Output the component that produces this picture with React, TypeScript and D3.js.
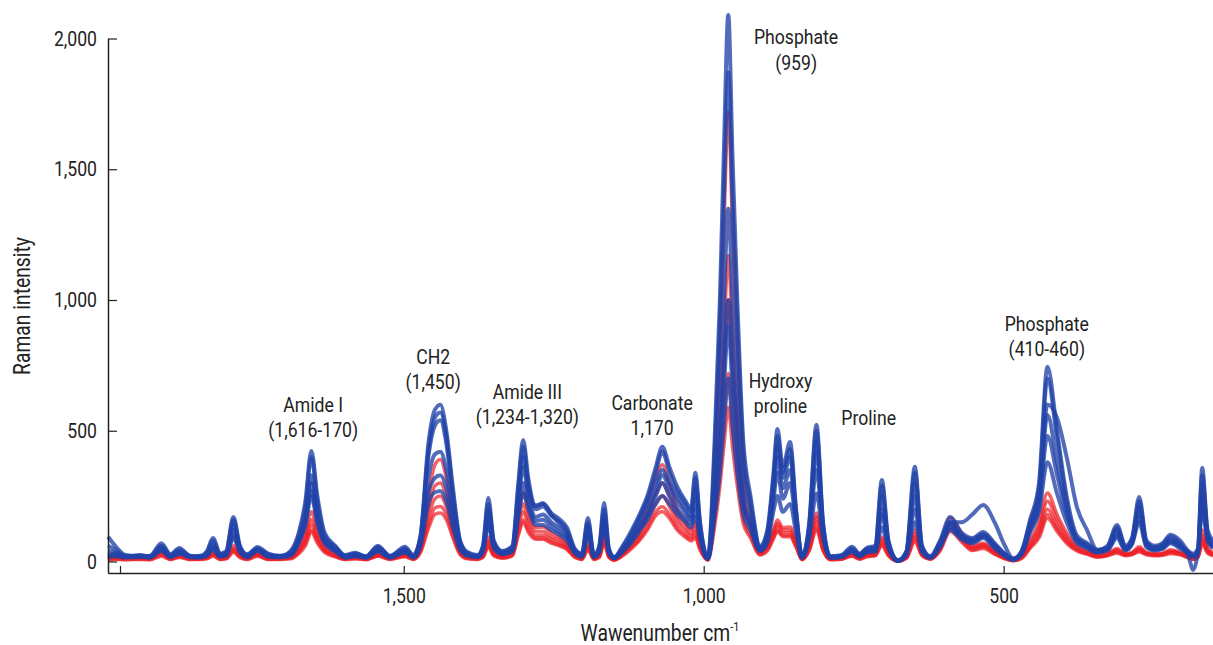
import { useEffect, useRef } from "react";
import * as d3 from "d3";

// wavenumber grid (cm-1), high -> low
const wavenumbers = [
  1993, 1981, 1964, 1939, 1923, 1904, 1889, 1874, 1856, 1839,
  1828, 1818, 1806, 1796, 1784, 1773, 1761, 1744, 1726, 1706,
  1689, 1675, 1664, 1654, 1644, 1632, 1614, 1598, 1581, 1563,
  1543, 1523, 1498, 1484, 1472, 1459, 1448, 1439, 1429, 1418,
  1406, 1394, 1377, 1368, 1359, 1350, 1336, 1319, 1309, 1301,
  1292, 1280, 1268, 1254, 1239, 1228, 1215, 1203, 1193, 1183,
  1174, 1166, 1158, 1149, 1135, 1120, 1109, 1094, 1080, 1069,
  1057, 1044, 1030, 1021, 1014, 1006, 993, 982, 973, 966,
  959, 952, 944, 934, 922, 906, 894, 884, 877, 868,
  856, 846, 836, 824, 812, 801, 789, 770, 753, 740,
  728, 714, 703, 692, 676, 662, 648, 636, 622, 606,
  589, 570, 552, 534, 515, 498, 484, 470, 456, 441,
  427, 411, 395, 378, 361, 344, 327, 311, 297, 286,
  274, 262, 248, 235, 222, 206, 192, 184, 176, 169,
  160, 151,
];

// blue spectra
const blue1 = [
  95, 60, 25, 20, 22, 70, 28, 52, 20, 22,
  40, 90, 30, 40, 170, 60, 25, 55, 30, 20,
  40, 110, 230, 423, 250, 110, 60, 25, 33, 18,
  60, 20, 56, 25, 100, 450, 580, 599, 500, 280,
  80, 36, 25, 60, 243, 80, 40, 60, 300, 465,
  312, 210, 224, 185, 159, 130, 50, 30, 166, 25,
  60, 224, 50, 17, 60, 120, 170, 250, 360, 439,
  360, 285, 230, 200, 339, 150, 15, 450, 1000, 1600,
  2090, 1550, 1000, 460, 250, 60, 120, 330, 507, 362,
  457, 200, 20, 150, 523, 150, 20, 25, 56, 30,
  52, 60, 312, 80, 5, 40, 362, 60, 20, 80,
  170, 110, 90, 113, 70, 30, 10, 40, 159, 300,
  745, 500, 250, 100, 70, 44, 60, 140, 60, 90,
  247, 80, 60, 70, 102, 80, 40, 30, 50, 358,
  120, 80,
];
const blue2 = [
  60, 45, 20, 25, 18, 60, 25, 45, 22, 18,
  35, 80, 28, 35, 160, 55, 28, 50, 28, 22,
  35, 100, 210, 400, 230, 100, 55, 22, 30, 20,
  55, 22, 50, 22, 95, 420, 550, 570, 480, 260,
  75, 32, 22, 55, 220, 75, 38, 55, 280, 440,
  290, 200, 210, 175, 150, 120, 45, 28, 150, 22,
  55, 200, 45, 15, 55, 110, 160, 240, 340, 420,
  340, 270, 220, 190, 320, 140, 12, 400, 900, 1420,
  1870, 1380, 900, 420, 230, 55, 110, 310, 480, 340,
  430, 190, 18, 140, 500, 140, 18, 22, 50, 28,
  48, 55, 290, 75, 3, 38, 340, 55, 18, 75,
  150, 100, 85, 105, 65, 28, 8, 38, 150, 280,
  700, 470, 230, 90, 65, 40, 55, 130, 55, 85,
  230, 75, 55, 65, 95, 70, 20, -32, 40, 330,
  110, 70,
];
const blue3 = [
  40, 35, 22, 18, 20, 55, 22, 40, 18, 20,
  30, 65, 25, 30, 140, 50, 22, 48, 25, 18,
  30, 85, 170, 330, 190, 90, 50, 20, 28, 18,
  50, 20, 45, 20, 90, 400, 520, 540, 450, 240,
  70, 30, 20, 50, 200, 70, 35, 50, 250, 400,
  280, 215, 220, 180, 140, 110, 40, 25, 140, 20,
  50, 180, 40, 15, 50, 100, 150, 220, 300, 350,
  300, 250, 200, 170, 280, 120, 14, 300, 650, 1020,
  1350, 1000, 650, 320, 190, 50, 100, 290, 440, 320,
  400, 180, 18, 130, 460, 130, 18, 20, 45, 25,
  45, 50, 250, 70, 5, 35, 300, 50, 18, 70,
  150, 150, 180, 216, 150, 60, 12, 35, 140, 260,
  600, 549, 400, 209, 120, 45, 50, 120, 50, 80,
  210, 70, 50, 60, 85, 65, 35, 25, 40, 300,
  100, 65,
];
const blue4 = [
  25, 30, 20, 22, 18, 50, 20, 35, 20, 18,
  28, 55, 22, 28, 120, 45, 20, 45, 22, 20,
  28, 80, 160, 300, 170, 80, 45, 18, 25, 16,
  45, 18, 40, 18, 80, 320, 410, 420, 350, 190,
  60, 28, 20, 45, 180, 65, 32, 45, 220, 360,
  250, 170, 180, 150, 125, 100, 38, 22, 125, 20,
  45, 165, 38, 14, 45, 90, 130, 190, 270, 330,
  280, 230, 185, 160, 250, 110, 12, 230, 480, 760,
  1000, 740, 480, 240, 150, 45, 90, 260, 400, 280,
  350, 160, 16, 120, 420, 120, 16, 20, 42, 22,
  40, 45, 200, 60, 2, 30, 250, 45, 16, 65,
  140, 95, 80, 100, 60, 25, 10, 32, 130, 230,
  560, 380, 200, 85, 60, 38, 48, 110, 48, 75,
  190, 65, 48, 55, 80, 60, 35, 22, 38, 260,
  90, 60,
];
const blue5 = [
  20, 25, 18, 20, 16, 45, 18, 32, 18, 16,
  25, 50, 20, 25, 100, 40, 18, 42, 20, 18,
  25, 75, 150, 270, 155, 75, 40, 16, 22, 15,
  40, 16, 36, 16, 70, 260, 320, 330, 280, 150,
  50, 25, 18, 40, 150, 55, 30, 40, 190, 300,
  220, 155, 160, 135, 110, 90, 35, 20, 110, 18,
  40, 150, 35, 13, 40, 80, 120, 175, 250, 300,
  250, 200, 165, 145, 200, 95, 10, 210, 430, 680,
  900, 670, 430, 220, 140, 42, 80, 230, 340, 240,
  300, 140, 15, 105, 350, 105, 15, 18, 40, 20,
  38, 40, 180, 55, 3, 28, 200, 40, 15, 60,
  130, 90, 75, 95, 55, 22, 8, 30, 120, 210,
  480, 330, 180, 80, 55, 36, 45, 100, 45, 70,
  170, 60, 45, 50, 75, 55, 32, 20, 36, 230,
  85, 55,
];
const blue6 = [
  15, 20, 15, 18, 15, 40, 16, 30, 16, 15,
  22, 45, 18, 22, 90, 35, 16, 40, 18, 16,
  22, 70, 140, 250, 145, 70, 38, 15, 20, 14,
  38, 15, 34, 15, 60, 220, 265, 270, 230, 130,
  45, 22, 16, 38, 140, 50, 28, 38, 170, 260,
  200, 140, 140, 120, 100, 80, 32, 18, 100, 16,
  38, 130, 32, 12, 38, 75, 110, 160, 220, 250,
  220, 180, 150, 130, 170, 85, 10, 170, 340, 530,
  700, 520, 340, 180, 120, 40, 70, 190, 250, 190,
  220, 110, 14, 90, 260, 90, 14, 16, 36, 18,
  35, 38, 130, 50, 2, 26, 150, 38, 14, 55,
  120, 85, 70, 90, 50, 20, 6, 28, 110, 190,
  380, 260, 150, 70, 50, 34, 42, 90, 42, 65,
  150, 55, 42, 48, 70, 50, 30, 18, 34, 200,
  80, 50,
];

// red spectra
const red1 = [
  15, 18, 12, 14, 12, 40, 14, 25, 12, 14,
  18, 35, 14, 18, 60, 25, 12, 30, 14, 12,
  18, 50, 110, 190, 120, 60, 30, 12, 18, 10,
  30, 12, 28, 12, 60, 250, 370, 390, 320, 170,
  45, 18, 12, 25, 94, 35, 20, 30, 180, 266,
  190, 130, 132, 110, 90, 70, 25, 12, 70, 12,
  25, 109, 25, 8, 35, 80, 120, 220, 320, 370,
  300, 200, 150, 120, 150, 70, 8, 380, 820, 1300,
  1720, 1280, 820, 380, 200, 40, 60, 120, 159, 130,
  132, 80, 10, 60, 185, 60, 10, 12, 30, 14,
  28, 30, 94, 35, 2, 18, 120, 30, 12, 60,
  165, 110, 60, 70, 40, 15, 5, 20, 80, 150,
  262, 180, 110, 60, 40, 25, 30, 50, 30, 35,
  56, 35, 30, 32, 45, 35, 20, 12, 25, 120,
  50, 35,
];
const red2 = [
  10, 14, 10, 12, 10, 35, 12, 22, 10, 12,
  15, 30, 12, 16, 50, 22, 10, 28, 12, 10,
  16, 45, 95, 160, 100, 50, 25, 10, 16, 9,
  26, 10, 25, 10, 50, 200, 290, 300, 250, 140,
  38, 15, 10, 22, 80, 30, 18, 28, 150, 220,
  160, 115, 115, 95, 80, 60, 22, 10, 60, 10,
  22, 95, 22, 7, 30, 70, 100, 180, 260, 300,
  250, 170, 130, 105, 130, 60, 7, 260, 560, 880,
  1170, 870, 560, 270, 150, 35, 55, 110, 145, 120,
  120, 70, 9, 55, 170, 55, 9, 10, 26, 12,
  25, 28, 85, 30, 2, 16, 105, 28, 10, 55,
  150, 100, 55, 65, 36, 14, 4, 18, 70, 130,
  230, 160, 95, 52, 35, 22, 28, 45, 28, 32,
  50, 32, 28, 30, 40, 32, 18, 10, 22, 100,
  45, 30,
];
const red3 = [
  20, 12, 14, 10, 12, 30, 10, 20, 12, 10,
  14, 28, 10, 14, 45, 20, 12, 26, 10, 12,
  14, 40, 80, 140, 90, 45, 22, 12, 14, 10,
  24, 12, 22, 12, 45, 170, 240, 250, 210, 120,
  34, 14, 12, 20, 70, 28, 16, 26, 130, 190,
  140, 100, 100, 85, 70, 55, 20, 12, 55, 12,
  20, 85, 20, 8, 28, 60, 90, 150, 220, 250,
  210, 150, 115, 95, 115, 55, 8, 220, 480, 760,
  1000, 740, 480, 230, 130, 32, 50, 100, 135, 110,
  110, 65, 10, 50, 150, 50, 10, 12, 24, 12,
  22, 26, 75, 28, 3, 15, 95, 26, 12, 50,
  140, 90, 50, 60, 34, 13, 5, 16, 60, 115,
  200, 140, 85, 48, 32, 20, 26, 40, 26, 30,
  45, 30, 26, 28, 36, 30, 16, 10, 20, 85,
  40, 28,
];
const red4 = [
  8, 10, 8, 10, 8, 25, 9, 18, 9, 10,
  12, 25, 9, 12, 40, 18, 9, 24, 9, 10,
  12, 35, 70, 120, 80, 40, 20, 9, 12, 8,
  22, 10, 20, 10, 40, 140, 205, 210, 180, 100,
  30, 12, 10, 18, 60, 25, 14, 24, 110, 160,
  120, 90, 90, 75, 62, 50, 18, 10, 48, 10,
  18, 75, 18, 6, 25, 55, 80, 130, 190, 209,
  180, 130, 100, 85, 100, 48, 6, 160, 350, 550,
  720, 530, 350, 170, 100, 28, 45, 90, 120, 100,
  100, 58, 8, 45, 130, 45, 8, 10, 22, 10,
  20, 24, 65, 25, 2, 14, 85, 24, 10, 45,
  125, 80, 45, 55, 30, 12, 4, 14, 55, 100,
  180, 125, 75, 44, 30, 18, 24, 36, 24, 28,
  40, 28, 24, 26, 34, 28, 15, 9, 18, 75,
  36, 25,
];
const red5 = [
  6, 8, 7, 8, 7, 20, 8, 15, 8, 8,
  10, 20, 8, 10, 35, 15, 8, 20, 8, 8,
  10, 30, 60, 113, 70, 35, 18, 8, 10, 7,
  20, 8, 18, 8, 35, 125, 180, 185, 160, 90,
  26, 10, 8, 16, 55, 22, 12, 22, 100, 150,
  110, 85, 85, 70, 58, 46, 16, 8, 44, 8,
  16, 70, 16, 5, 22, 50, 75, 120, 175, 190,
  165, 120, 92, 78, 90, 44, 5, 130, 290, 450,
  590, 440, 290, 145, 90, 25, 40, 85, 115, 95,
  95, 55, 7, 42, 120, 42, 7, 9, 20, 9,
  18, 22, 60, 22, 1, 12, 75, 22, 9, 40,
  115, 75, 42, 50, 28, 10, 3, 12, 50, 90,
  165, 115, 70, 40, 28, 16, 22, 32, 22, 26,
  36, 26, 22, 24, 30, 26, 14, 8, 16, 65,
  32, 22,
];

const blueSeries = [blue6, blue5, blue4, blue3, blue2, blue1];
const redSeries = [red1, red2, red3, red4, red5];

const yTicks = [0, 500, 1000, 1500, 2000];
const xTicks = [1973, 1500, 1000, 500];
const xTickLabels = ["", "1,500", "1,000", "500"];

// band labels, anchored in data units (wavenumber, intensity)
const bandLabels = [
  { lines: ["Amide I", "(1,616-170)"], w: 1651, v: 599 },
  { lines: ["CH2", "(1,450)"], w: 1451, v: 783 },
  { lines: ["Amide III", "(1,234-1,320)"], w: 1294, v: 649 },
  { lines: ["Carbonate", "1,170"], w: 1086, v: 607 },
  { lines: ["Phosphate", "(959)"], w: 846, v: 2004 },
  { lines: ["Hydroxy", "proline"], w: 872, v: 691 },
  { lines: ["Proline"], w: 725, v: 549 },
  { lines: ["Phosphate", "(410-460)"], w: 428, v: 909 },
];

const FONT = "Roboto, 'Liberation Sans', sans-serif";
const SX = 0.84; // condensed look

export default function App() {
  const ref = useRef<SVGSVGElement>(null);
  const width = 1213;
  const height = 645;

  useEffect(() => {
    if (!ref.current) return;
    document.body.style.margin = "0";
    const svg = d3.select(ref.current);
    svg.selectAll("*").remove();

    const left = 108;
    const bottom = 573;

    const x = d3.scaleLinear().domain([1993, 151]).range([left, width]);
    const y = d3.scaleLinear().domain([-44, 2000]).range([bottom, 38.5]);

    const line = d3
      .line<number>()
      .x((_, i) => x(wavenumbers[i]))
      .y((d) => y(d))
      .curve(d3.curveMonotoneX);

    const lines = svg.append("g");
    redSeries.forEach((s) => {
      lines
        .append("path")
        .attr("d", line(s))
        .attr("fill", "none")
        .attr("stroke", "#ec1f26")
        .attr("stroke-width", 3.5)
        .attr("stroke-opacity", 0.7)
        .attr("stroke-linejoin", "round");
    });
    blueSeries.forEach((s) => {
      lines
        .append("path")
        .attr("d", line(s))
        .attr("fill", "none")
        .attr("stroke", "#2143a8")
        .attr("stroke-width", 4)
        .attr("stroke-opacity", 0.78)
        .attr("stroke-linejoin", "round");
    });

    // axes
    const yAxis = svg
      .append("g")
      .attr("transform", `translate(${left},0)`)
      .call(
        d3
          .axisLeft(y)
          .tickValues(yTicks)
          .tickSizeInner(-9)
          .tickSizeOuter(0)
          .tickPadding(11)
          .tickFormat((d) => d3.format(",")(d as number))
      );
    const xAxis = svg
      .append("g")
      .attr("transform", `translate(0,${bottom})`)
      .call(
        d3
          .axisBottom(x)
          .tickValues(xTicks)
          .tickSizeInner(-7)
          .tickSizeOuter(0)
          .tickPadding(15)
          .tickFormat((_, i) => xTickLabels[i])
      );
    [xAxis, yAxis].forEach((a) => {
      a.select(".domain").attr("stroke", "#222").attr("stroke-width", 1.5);
      a.selectAll(".tick line").attr("stroke", "#222").attr("stroke-width", 1.2);
      a.selectAll(".tick text")
        .attr("fill", "#222")
        .style("font-family", FONT)
        .style("font-size", "21px");
    });
    yAxis.selectAll(".tick text").attr("x", -11 / SX).attr("transform", `scale(${SX},1)`);
    xAxis.selectAll(".tick text").attr("transform", `scale(${SX},1)`);

    // axis titles
    svg
      .append("text")
      .attr("transform", `translate(22,306) rotate(-90) scale(${SX},1)`)
      .attr("text-anchor", "middle")
      .attr("dominant-baseline", "central")
      .attr("fill", "#222")
      .style("font-family", FONT)
      .style("font-size", "23px")
      .text("Raman intensity");

    const xt = svg
      .append("text")
      .attr("transform", `translate(660,641) scale(${SX},1)`)
      .attr("text-anchor", "middle")
      .attr("fill", "#222")
      .style("font-family", FONT)
      .style("font-size", "23px");
    xt.append("tspan").text("Wawenumber cm");
    xt.append("tspan").attr("dy", -10).style("font-size", "13px").text("-1");

    // band labels
    bandLabels.forEach((b) => {
      const t = svg
        .append("text")
        .attr("transform", `translate(${x(b.w)},${y(b.v)}) scale(${SX},1)`)
        .attr("text-anchor", "middle")
        .attr("fill", "#222")
        .style("font-family", FONT)
        .style("font-size", "21px");
      b.lines.forEach((l, i) => {
        t.append("tspan")
          .attr("x", 0)
          .attr("y", i * 25.5)
          .attr("dominant-baseline", "central")
          .text(l);
      });
    });
  }, []);

  return (
    <svg
      ref={ref}
      width={width}
      height={height}
      style={{ position: "absolute", left: 0, top: 0, background: "#fff" }}
    />
  );
}
